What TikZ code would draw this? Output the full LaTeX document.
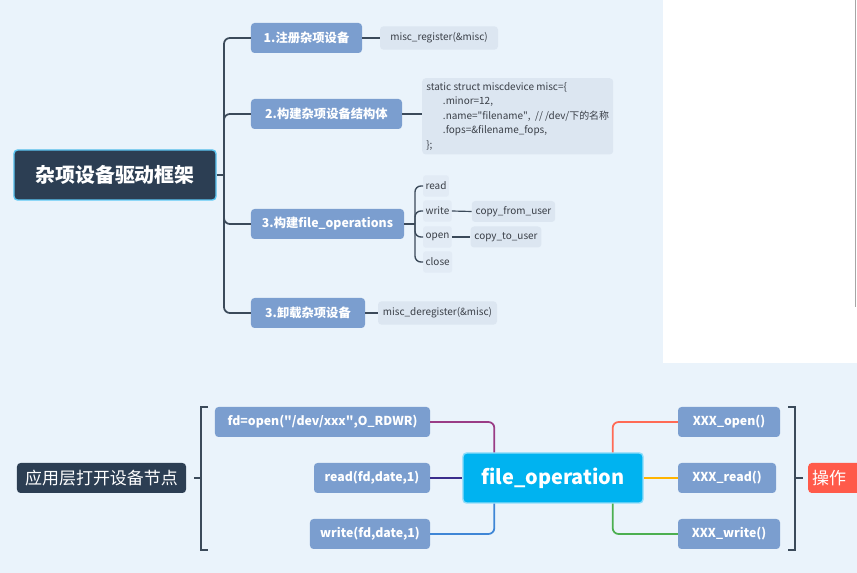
\documentclass[tikz,border=0pt]{standalone}
\usepackage{fontspec}
\setmainfont{Noto Sans CJK SC}
\usepackage{xcolor}
\usetikzlibrary{positioning}

\definecolor{bgblue}{HTML}{EAF3FB}
\definecolor{topicdark}{HTML}{2C3E53}
\definecolor{topicedge}{HTML}{5CC8F5}
\definecolor{branchblue}{HTML}{7B9ECF}
\definecolor{leafgrey}{HTML}{DCE6F1}
\definecolor{textdark}{HTML}{3A3F47}
\definecolor{linedark}{HTML}{3B4A5A}
\definecolor{opcyan}{HTML}{00B3F0}
\definecolor{opedge}{HTML}{8FDDFA}
\definecolor{hotred}{HTML}{FF5A4A}
\definecolor{lnpurple}{HTML}{9A3C86}
\definecolor{lnnavy}{HTML}{3A2D8C}
\definecolor{lnblue}{HTML}{3F86D6}
\definecolor{lnorange}{HTML}{FF6A55}
\definecolor{lnyellow}{HTML}{FFB400}
\definecolor{lngreen}{HTML}{4CAF50}

\begin{document}
\begin{tikzpicture}[x=0.03cm,y=-0.03cm,
topic/.style={
rectangle,rounded corners=3pt,
fill=topicdark,draw=topicedge,line width=1.2pt,
text=white,font=\fontsize{17}{20}\selectfont\bfseries,
minimum height=1.5cm
},
branch/.style={
rectangle,rounded corners=3pt,fill=branchblue,
text=white,font=\fontsize{10.5}{12}\selectfont\bfseries,
minimum height=0.9cm
},
leaf/.style={
rectangle,rounded corners=3pt,fill=leafgrey,
text=textdark,font=\fontsize{8.5}{10}\selectfont,
minimum height=0.7cm
},
item/.style={
rectangle,rounded corners=2pt,fill=leafgrey!60!bgblue,
text=textdark,font=\fontsize{8.5}{10}\selectfont,
inner xsep=2pt,minimum height=0.64cm,anchor=west
},
link/.style={draw=linedark,line width=1.5pt,rounded corners=5pt},
flow/.style={line width=1.5pt,rounded corners=5pt}
]

% CANVAS
\useasboundingbox (0,0) rectangle (857,573);
\clip (0,0) rectangle (857,573);
\fill[bgblue] (0,0) rectangle (857,573);
\fill[white] (663,0) rectangle (857,363);
\draw[black!35,line width=0.8pt] (855,0) -- (855,307);

% MISC DEVICE MAP
\node[topic,minimum width=6.06cm] (misc) at (115,175) {杂项设备驱动框架};
\coordinate (trunk) at (224,175);

\node[branch,minimum width=3.33cm] (reg) at (306.5,38) {1.注册杂项设备};
\node[branch,minimum width=4.53cm] (build) at (326.5,114) {2.构建杂项设备结构体};
\node[branch,minimum width=4.59cm] (fops) at (327.5,224) {3.构建file\_operations};
\node[branch,minimum width=3.42cm] (dereg) at (308,313) {3.卸载杂项设备};

\node[leaf,minimum width=3.54cm] (regfn) at (439,38) {misc\_register(\&misc)};
\node[leaf,anchor=north west,align=left,minimum width=5.73cm,minimum height=2.16cm,
font=\fontsize{8.5}{12.5}\selectfont] (code) at (422,78)
{static struct miscdevice misc=\{\\
\hspace*{0.5cm}.minor=12,\\
\hspace*{0.5cm}.name=\textquotedbl filename\textquotedbl,\ \ // /dev/下的名称\\
\hspace*{0.5cm}.fops=\&filename\_fops,\\
\};};
\node[leaf,minimum width=3.57cm] (deregfn) at (437.5,313) {misc\_deregister(\&misc)};

% FILE OPERATIONS
\coordinate (opsbar) at (415,224);
\node[item] (rd) at (423,186) {read};
\node[item] (wr) at (423,211) {write};
\node[item] (op) at (423,237) {open};
\node[item] (cl) at (423,262) {close};
\node[leaf,minimum width=2.37cm,minimum height=0.63cm] (cfu) at (513.5,211.5) {copy\_from\_user};
\node[leaf,minimum width=1.92cm,minimum height=0.63cm] (ctu) at (506,237) {copy\_to\_user};

% LINKS
\draw[link] (misc.east) -- (trunk);
\draw[link] (reg.west) -| (trunk);
\draw[link] (build.west) -| (trunk);
\draw[link] (fops.west) -| (trunk);
\draw[link] (dereg.west) -| (trunk);
\draw[link,line width=1pt] (reg.east) -- (regfn.west);
\draw[link,line width=1pt] (build.east) -- (build.east -| code.west);
\draw[link,line width=1pt] (dereg.east) -- (deregfn.west);
\draw[link,line width=1.2pt] (fops.east) -- (opsbar);
\draw[link,line width=1.2pt] (rd.west) -| (opsbar);
\draw[link,line width=1.2pt] (wr.west) -| (opsbar);
\draw[link,line width=1.2pt] (op.west) -| (opsbar);
\draw[link,line width=1.2pt] (cl.west) -| (opsbar);
\draw[link,line width=1pt] (wr.east) -- (cfu.west);
\draw[link,line width=1pt] (op.east) -- (ctu.west);

% APPLICATION LAYER
\node[branch,fill=topicdark,minimum width=5.07cm,
font=\fontsize{14.5}{17}\selectfont] (app) at (101.5,478) {应用层打开设备节点};

\node[branch,minimum width=6.45cm] (fdopen) at (322.5,422) {fd=open(\textquotedbl/dev/xxx\textquotedbl,O\_RDWR)};
\node[branch,minimum width=3.48cm] (fdread) at (372,478) {read(fd,date,1)};
\node[branch,minimum width=3.6cm] (fdwrite) at (370,534) {write(fd,date,1)};

\node[topic,fill=opcyan,draw=opedge,minimum width=5.4cm] (fileop) at (553,478) {file\_operation};

\node[branch,minimum width=3.06cm] (xopen) at (729,422) {XXX\_open()};
\node[branch,minimum width=2.94cm] (xread) at (727,478) {XXX\_read()};
\node[branch,minimum width=3.06cm] (xwrite) at (729,534) {XXX\_write()};

\node[branch,fill=hotred,anchor=west,minimum width=2.1cm,
font=\fontsize{14.5}{17}\selectfont\mdseries] (hw) at (808,478) {操作\hspace*{1cm}};

% BRACKETS
\coordinate (lbtop) at (201,407);
\coordinate (lbbot) at (201,550);
\coordinate (rbtop) at (795,407);
\coordinate (rbbot) at (795,550);
\draw[linedark,line width=1.2pt] ([xshift=0.21cm]lbtop) -- (lbtop) -- (lbbot) -- ([xshift=0.21cm]lbbot);
\draw[linedark,line width=1.2pt] (app.east -| lbtop) -- ([xshift=-0.21cm]app.east -| lbtop);
\draw[linedark,line width=1.2pt] ([xshift=-0.21cm]rbtop) -- (rbtop) -- (rbbot) -- ([xshift=-0.21cm]rbbot);
\draw[linedark,line width=1.2pt] (hw.west -| rbtop) -- ([xshift=0.24cm]hw.west -| rbtop);

% CALLS
\draw[flow,lnpurple] (fdopen.east) -| ([xshift=0.96cm]fileop.north west);
\draw[flow,lnnavy] (fdread.east) -- (fileop.west);
\draw[flow,lnblue] (fdwrite.east) -| ([xshift=0.96cm]fileop.south west);
\draw[flow,lnorange] (xopen.west) -| ([xshift=-0.93cm]fileop.north east);
\draw[flow,lnyellow] (xread.west) -- (fileop.east);
\draw[flow,lngreen] (xwrite.west) -| ([xshift=-0.93cm]fileop.south east);

\end{tikzpicture}
\end{document}
